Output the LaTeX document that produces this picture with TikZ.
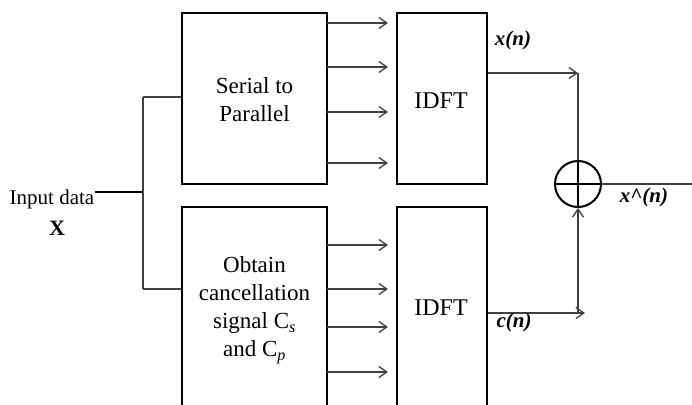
\documentclass[tikz,border=0pt]{standalone}
\usepackage{fontspec}
\setmainfont{Liberation Serif}
\usetikzlibrary{arrows.meta}
\tikzset{
  blk/.style={draw=black, line width=2pt, minimum width=145pt, inner sep=0pt},
  dft/.style={draw=black, line width=2pt, minimum width=90pt, inner sep=0pt},
  txt/.style={font=\fontsize{23}{28}\selectfont, align=center, inner sep=0pt},
  sig/.style={font=\fontsize{21}{24}\selectfont\bfseries\itshape, inner sep=0pt},
  par/.style={draw=black!75, line width=1.3pt, -{Straight Barb[length=8pt,width=11pt]}},
  wire/.style={draw=black!75, line width=1.3pt},
}
\newcommand{\sub}[1]{\textsubscript{\itshape #1}}
\begin{document}
\begin{tikzpicture}[x=1pt, y=-1pt]
\useasboundingbox (0,0) rectangle (692,404);
\clip (0,0) rectangle (692,404);
% blocks
\node[blk, minimum height=171pt] (sp) at (254.5,98.5) {};
\node[dft, minimum height=171pt] (idft1) at (442,98.5) {};
\node[blk, minimum height=240pt] (obt) at (254.5,327) {};
\node[dft, minimum height=240pt] (idft2) at (442,327) {};
\node[txt] (sptxt) at (254.5,100) {Serial to\\Parallel};
\node[txt, font=\fontsize{24}{28}\selectfont] (idt1) at (441,101) {IDFT};
\node[txt] (obtxt) at (254.5,310) {Obtain\\cancellation\\signal C\sub{s}\\and C\sub{p}};
\node[txt, font=\fontsize{24}{28}\selectfont] (idt2) at (441,308) {IDFT};
% input
\node[txt, font=\fontsize{21}{24}\selectfont] (inp) at (52,199) {Input data};
\node[txt, font=\fontsize{22}{24}\selectfont\bfseries] (X) at (57,228) {X};
\coordinate (in0) at (95,192);
\coordinate (in1) at (143,192);
\coordinate (jt) at (143,97);
\coordinate (jb) at (143,289);
\draw[black, line width=2pt] (in0) -- (in1);
\draw[wire] (jt) -- (jb);
\draw[wire] (jt) -- (jt -| sp.west);
\draw[wire] (jb) -- (jb -| obt.west);
% parallel lines
\foreach \y in {23,67,112,163} {
  \draw[par] (327,\y) -- (388,\y);
}
\foreach \y in {245,289,327,372} {
  \draw[par] (327,\y) -- (388,\y);
}
% combiner
\node[draw=black, line width=2pt, circle, minimum size=46pt, inner sep=0pt] (sum) at (578,184) {};
\draw[black, line width=2pt] (sum.north) -- (sum.south);
\draw[black, line width=2pt] (sum.west) -- (sum.east);
\coordinate (xc) at (578,73);
\coordinate (cc) at (578,313);
\coordinate (out) at (692,184);
\draw[par] (idft1.east |- xc) -- (xc);
\draw[wire] (xc) -- (sum.north);
\draw[par] (idft2.east |- cc) -- (585,313);
\draw[par] (cc) -- (sum.south);
\draw[wire] (sum.east) -- (out);
% signal labels
\node[sig] (xl) at (513,40) {x(n)};
\node[sig] (cl) at (514,322) {c(n)};
\node[sig] (xh) at (644,197) {x\^{}(n)};
\end{tikzpicture}
\end{document}
